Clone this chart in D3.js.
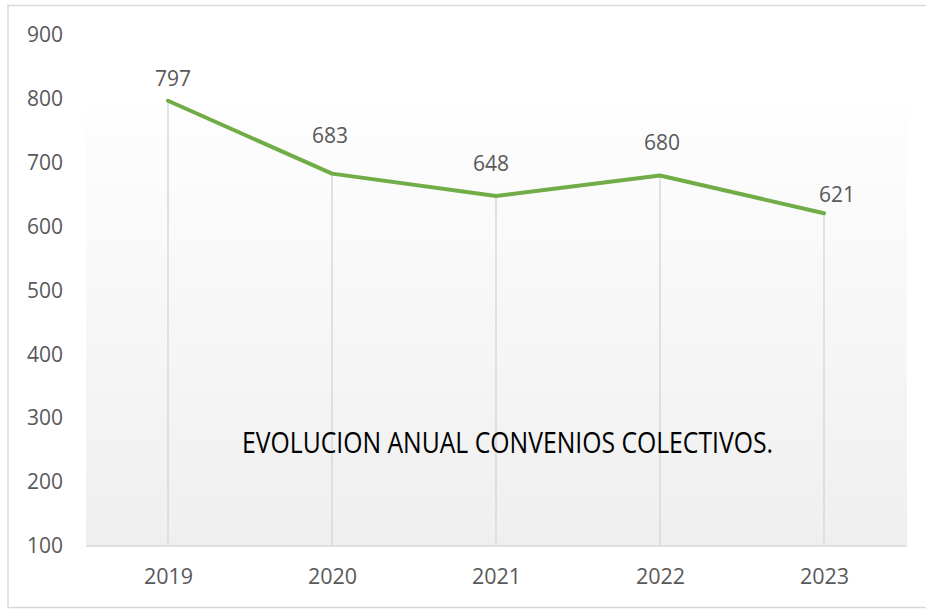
<!DOCTYPE html>
<html><head><meta charset="utf-8">
<script src="https://cdn.jsdelivr.net/npm/d3@7"></script>
<style>body{margin:0;background:#fff}svg{display:block}</style>
</head><body>
<script>
const categories = ["2019","2020","2021","2022","2023"];
const values = [797, 683, 648, 680, 621];
const yTicks = [100,200,300,400,500,600,700,800,900];
const title = "EVOLUCION ANUAL CONVENIOS COLECTIVOS.";
// manual data-label nudges (px) as placed in the original
const labelDx = [5, -2, -5, 2, 13];
const labelDy = [-15, -31, -25, -26, -11];

const W = 926, H = 611;
const svg = d3.select("body").append("svg").attr("width", W).attr("height", H);
const font = "'Open Sans', 'DejaVu Sans', sans-serif";

// outer border
svg.append("rect").attr("x", 8).attr("y", 5.5).attr("width", 930).attr("height", 602)
  .attr("fill", "#fff").attr("stroke", "#d9d9d9").attr("stroke-width", 1.5);

const x = d3.scalePoint().domain(categories).range([86, 906]).padding(0.5);
const y = d3.scaleLinear().domain([100, 900]).range([546, 35]);

const defs = svg.append("defs");
const g = defs.append("linearGradient").attr("id", "bg").attr("x1", 0).attr("y1", 0).attr("x2", 0).attr("y2", 1);
g.append("stop").attr("offset", "0%").attr("stop-color", "#fefefe");
g.append("stop").attr("offset", "100%").attr("stop-color", "#efefef");

svg.append("rect").attr("x", 86).attr("y", 103).attr("width", 821).attr("height", 546 - 103)
  .attr("fill", "url(#bg)");

// drop lines
svg.selectAll("line.drop").data(categories).join("line").attr("class", "drop")
  .attr("x1", d => x(d)).attr("x2", d => x(d))
  .attr("y1", (d, i) => y(values[i])).attr("y2", y(100))
  .attr("stroke", "#d9d9d9").attr("stroke-width", 1.5);

// x axis
const xAxis = svg.append("g").attr("transform", `translate(0,${y(100)})`)
  .call(d3.axisBottom(x).tickSize(0).tickPadding(23));
xAxis.select(".domain").attr("d", "M86,0H907").attr("stroke", "#d9d9d9").attr("stroke-width", 1.5);
xAxis.selectAll("text").attr("font-family", font).attr("font-size", 21.5).attr("fill", "#595959");

// y axis labels
const yAxis = svg.append("g").attr("transform", "translate(63,0)")
  .call(d3.axisLeft(y).tickValues(yTicks).tickSize(0).tickPadding(0));
yAxis.select(".domain").remove();
yAxis.selectAll("text").attr("font-family", font).attr("font-size", 21).attr("fill", "#595959");

// line
svg.append("path").datum(values)
  .attr("d", d3.line().x((d, i) => x(categories[i])).y(d => y(d)))
  .attr("fill", "none").attr("stroke", "#70ad47").attr("stroke-width", 4)
  .attr("stroke-linejoin", "round").attr("stroke-linecap", "round");

// data labels
svg.selectAll("text.lbl").data(values).join("text").attr("class", "lbl")
  .attr("x", (d, i) => x(categories[i]) + labelDx[i]).attr("y", (d, i) => y(d) + labelDy[i])
  .attr("text-anchor", "middle").attr("font-family", font).attr("font-size", 21)
  .attr("fill", "#595959").text(d => d);

// title
svg.append("text").attr("x", 242).attr("y", 453)
  .attr("font-family", "'Liberation Sans Narrow', 'Open Sans', sans-serif").attr("font-size", 28.5)
  .attr("fill", "#000").attr("textLength", 531).attr("lengthAdjust", "spacingAndGlyphs")
  .text(title);
</script>
</body></html>
